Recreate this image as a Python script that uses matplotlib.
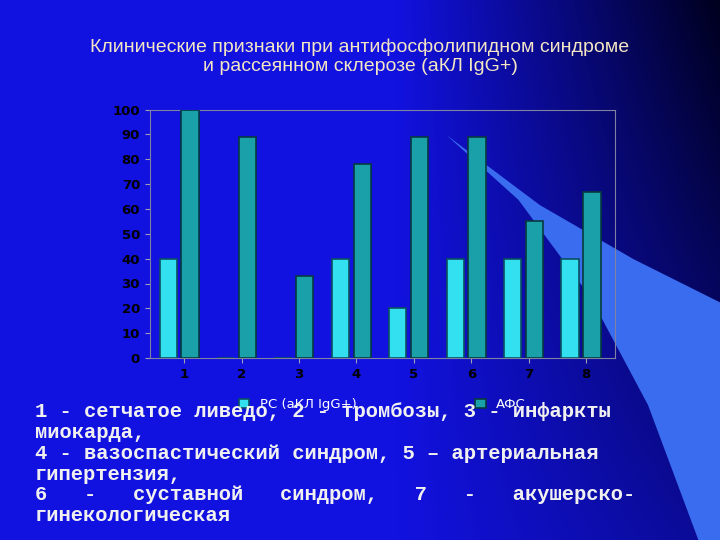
import numpy as np
import matplotlib
matplotlib.use("Agg")
import matplotlib.pyplot as plt
from matplotlib.patches import Polygon

categories = ["1", "2", "3", "4", "5", "6", "7", "8"]
rs_values = [40, 0, 0, 40, 20, 40, 40, 40]
afs_values = [100, 89, 33, 78, 89, 89, 55, 67]
series_names = ["РС (аКЛ IgG+)", "АФС"]
yticks = [0, 10, 20, 30, 40, 50, 60, 70, 80, 90, 100]

fig = plt.figure(figsize=(7.2, 5.4), dpi=100)
bg = fig.add_axes([0, 0, 1, 1])
bg.set_axis_off()
xx = np.linspace(0, 1, 300)
yy = np.linspace(0, 1, 300)
X, Y = np.meshgrid(xx, yy)
t = np.clip((X - 0.55) / 0.45, 0, 1) * (0.4 + 0.6 * Y)
c0 = np.array([0.07, 0.07, 0.88]); c1 = np.array([0.0, 0.0, 0.12])
img = c0[None, None, :] * (1 - t[..., None]) + c1[None, None, :] * t[..., None]
bg.imshow(img, extent=[0, 1, 0, 1], origin="lower", aspect="auto")
bg.add_patch(Polygon([[0.62, 0.75], [0.75, 0.62], [0.88, 0.52], [1.0, 0.44], [1.0, 0.0], [0.97, 0.0],
                      [0.9, 0.25], [0.82, 0.45], [0.72, 0.63]], closed=True,
                     facecolor="#3a6cf0", edgecolor="none"))
bg.set_xlim(0, 1); bg.set_ylim(0, 1)

fig.text(0.5, 0.895, "Клинические признаки при антифосфолипидном синдроме\nи рассеянном склерозе (аКЛ IgG+)",
         ha="center", va="center", color="#f4e6c4", fontsize=14, family="Liberation Sans", linespacing=1.15)

ax = fig.add_axes([0.208, 0.337, 0.646, 0.46])
ax.set_facecolor("none")
x = np.arange(len(categories))
w = 0.3
ax.bar(x - 0.28, rs_values, w, color="#33e0f0", edgecolor="#0a5060", linewidth=1.2, label=series_names[0], zorder=3)
ax.bar(x + 0.1, afs_values, w, color="#1aa0a8", edgecolor="#063a40", linewidth=1.2, label=series_names[1], zorder=3)
ax.set_ylim(0, 100)
ax.set_xlim(-0.6, 7.5)
ax.set_yticks(yticks)
ax.set_xticks(x)
ax.set_xticklabels(categories)
ax.tick_params(colors="#a0a0b0", labelcolor="black", labelsize=9.5)
for lab in ax.get_xticklabels() + ax.get_yticklabels():
    lab.set_fontweight("bold")
for s in ax.spines.values():
    s.set_color("#8080a0")
ax.legend(loc="upper center", bbox_to_anchor=(0.5, -0.115), ncol=2, frameon=False,
          labelcolor="white", fontsize=9.5, columnspacing=9, handlelength=0.8)

txt = ("1 - сетчатое ливедо, 2 - тромбозы, 3 - инфаркты\n"
       "миокарда,\n"
       "4 - вазоспастический синдром, 5 – артериальная\n"
       "гипертензия,\n"
       "6   -   суставной   синдром,   7   -   акушерско-\n"
       "гинекологическая")
fig.text(0.048, 0.255, txt, ha="left", va="top", color="#f0f0f0", fontsize=14.8,
         family="Liberation Mono", weight="bold", linespacing=1.12)
fig.savefig("out.png", dpi=100)
